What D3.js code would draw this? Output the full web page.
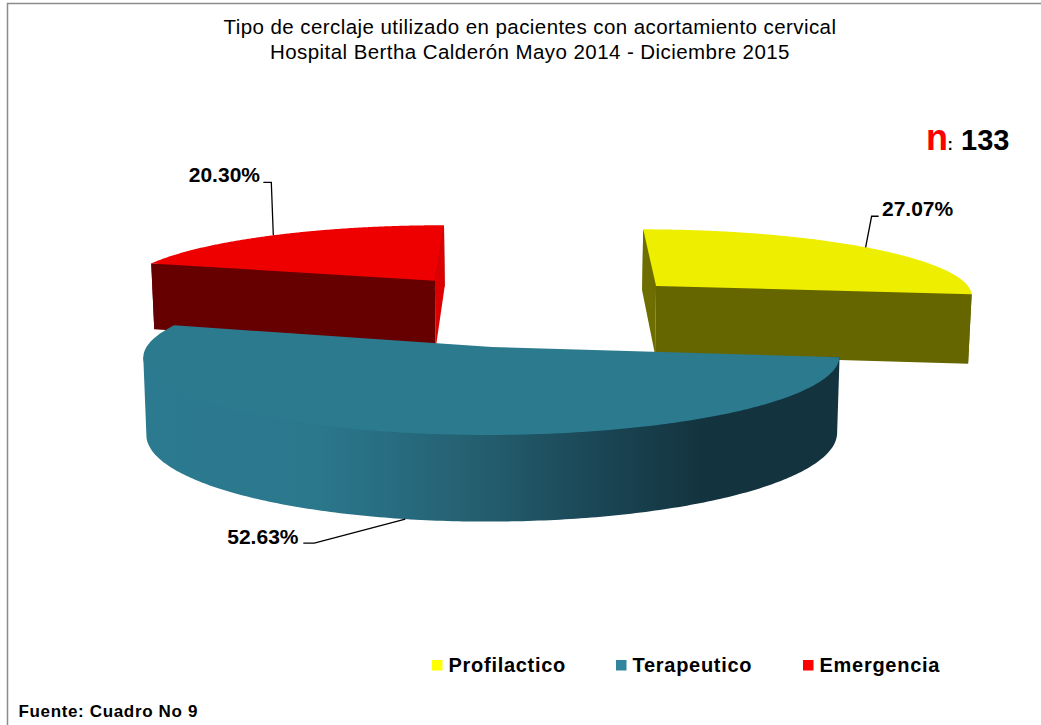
<!DOCTYPE html>
<html lang="es">
<head>
<meta charset="utf-8">
<script src="https://cdn.jsdelivr.net/npm/d3@7/dist/d3.min.js"></script>
<style>
html,body{margin:0;padding:0;background:#fff;}
svg{display:block;font-family:"Liberation Sans",Arial,sans-serif;}
</style>
</head>
<body>
<svg id="chart" width="1041" height="725"></svg>
<script>
// ---- Data ----
const categories = ["Profilactico", "Terapeutico", "Emergencia"];
const shares = [27.07, 52.63, 20.30];
const labels = ["27.07%", "52.63%", "20.30%"];
const titleLines = ["Tipo de cerclaje utilizado en pacientes con acortamiento cervical",
                    "Hospital Bertha Calderón Mayo 2014 - Diciembre 2015"];
const sourceNote = "Fuente: Cuadro No 9";
const sampleName = "n";
const sampleValue = "133";

// ---- Colours ----
const topColor   = d3.scaleOrdinal(categories, ["#EEEE00", "#2B7A8E", "#EE0000"]);
const wallColor  = d3.scaleOrdinal(categories, ["#666600", "url(#blueWall)", "#660000"]);
const innerColor = d3.scaleOrdinal(categories, ["#6E6E00", "#13343F", "#DD0000"]);
const keyColor   = d3.scaleOrdinal(categories, ["#FFFF00", "#31859C", "#FF0000"]);

// ---- Perspective pie geometry ----
const vp = {x: 527, y: -280};
const persp = 0.123, radius = 345.5, planeY = 627, thickness = 76, floorShrink = 0.992;
const explode = d3.scaleOrdinal(categories, [
  {u: 143, depth: 1.108}, {u: -35, depth: 1}, {u: -103, depth: 1.118}
]);
function project(cat, angle, r, bottom) {
  const e = explode(cat);
  const d = e.depth + persp * r * Math.cos(angle);
  const u = e.u + radius * r * Math.sin(angle);
  const k = bottom ? floorShrink : 1;
  return [vp.x + k * u / d, vp.y + (planeY + (bottom ? thickness : 0)) / d];
}
const arcs = d3.pie().sort(null).value(d => d)(shares).map((a, i) => ({...a, cat: categories[i], label: labels[i]}));
const line = d3.line();
const rim = (a, bottom, r = 1) => d3.range(0, 241).map(t =>
  project(a.cat, a.startAngle + (a.endAngle - a.startAngle) * t / 240, r, bottom));
// The outer wall is only seen up to the rim's leftmost point; its upper edge runs
// slightly inside the rim, under the top surface, so no seam shows between the two.
function wallPath(a) {
  const top = rim(a, false), inner = rim(a, false, 0.97), floor = rim(a, true);
  const stop = a.cat === categories[1] ? d3.leastIndex(top, p => p[0]) : top.length - 1;
  return line([top[0]].concat(inner.slice(0, stop + 1), [top[stop]], floor.slice(0, stop + 1).reverse())) + "Z";
}

const svg = d3.select("#chart");
const defs = svg.append("defs");
const grad = defs.append("linearGradient").attr("id", "blueWall")
  .attr("gradientUnits", "userSpaceOnUse").attr("x1", 144).attr("x2", 840).attr("y1", 0).attr("y2", 0);
[[0, "#2C7A8F"], [0.24, "#2B788D"], [0.36, "#286C80"], [0.5, "#235C6C"], [0.66, "#1A4554"], [0.8, "#13343F"], [1, "#13343F"]]
  .forEach(s => grad.append("stop").attr("offset", s[0]).attr("stop-color", s[1]));

// ---- Frame ----
svg.append("path").attr("d", "M7.5,725V3.5H1041").attr("fill", "none").attr("stroke", "#8C8C8C").attr("stroke-width", 1.5);

// ---- Title ----
svg.append("g").selectAll("text").data(titleLines).join("text")
  .attr("x", 530).attr("y", (d, i) => 34.3 + i * 24.2)
  .attr("text-anchor", "middle").attr("font-size", 20.5).attr("letter-spacing", 0.43).attr("fill", "#000")
  .text(d => d);

// ---- Slices: emergencia, profilactico, terapeutico ----
const order = [arcs[2], arcs[0], arcs[1]];
const slices = svg.append("g").selectAll("g").data(order).join("g");
slices.append("path").attr("fill", d => wallColor(d.cat)).attr("d", wallPath);
function face(d, angle) {
  return line([project(d.cat, angle, 0, false), project(d.cat, angle, 1, false),
               project(d.cat, angle, 1, true), project(d.cat, angle, 0, true)]) + "Z";
}
// The face that turns towards the viewer is drawn last of each pair.
slices.each(function(d) {
  if (d.cat === categories[1]) return;
  const g = d3.select(this);
  const inner = d.cat === categories[0] ? d.startAngle : d.endAngle;
  const front = d.cat === categories[0] ? d.endAngle : d.startAngle;
  g.append("path").attr("fill", innerColor(d.cat)).attr("d", face(d, inner));
  g.append("path").attr("fill", wallColor(d.cat)).attr("d", face(d, front));
});
slices.append("path").attr("fill", d => topColor(d.cat))
  .attr("d", d => line([project(d.cat, 0, 0, false)].concat(rim(d, false))) + "Z");

// ---- Leader lines and value labels ----
const leaderOffset = d3.scaleOrdinal(categories, [
  {elbow: [6, -31], end: [13, -31], tx: 882, ty: 216, anchor: "start", bottom: false},
  {elbow: [-91, 24], end: [-102, 24], tx: 298.5, ty: 544, anchor: "end", bottom: true},
  {elbow: [-2, -53], end: [-10, -53], tx: 260, ty: 182, anchor: "end", bottom: false}
]);
const leaders = svg.append("g").selectAll("g").data(arcs).join("g");
leaders.append("path").attr("fill", "none").attr("stroke", "#000").attr("stroke-width", 1.3)
  .attr("d", d => {
    const o = leaderOffset(d.cat);
    const p = project(d.cat, (d.startAngle + d.endAngle) / 2, 1, o.bottom);
    return line([p, [p[0] + o.elbow[0], p[1] + o.elbow[1]], [p[0] + o.end[0], p[1] + o.end[1]]]);
  });
leaders.append("text").attr("x", d => leaderOffset(d.cat).tx).attr("y", d => leaderOffset(d.cat).ty)
  .attr("text-anchor", d => leaderOffset(d.cat).anchor)
  .attr("font-size", 21).attr("font-weight", "bold").attr("fill", "#000").text(d => d.label);

// ---- Sample size ----
const nText = svg.append("text").attr("y", 149.5).attr("font-weight", "bold").attr("fill", "#000");
nText.append("tspan").attr("x", 926).attr("font-size", 36).attr("fill", "#FF0000").text(sampleName);
nText.append("tspan").attr("x", 947.5).attr("font-size", 16).text(":");
nText.append("tspan").attr("x", 961).attr("font-size", 29).text(sampleValue);

// ---- Legend ----
const legendX = d3.scaleOrdinal(categories, [432, 616, 803]);
const legend = svg.append("g").selectAll("g").data(categories).join("g");
legend.append("rect").attr("x", d => legendX(d)).attr("y", 660).attr("width", 10.5).attr("height", 10.5).attr("fill", d => keyColor(d));
legend.append("text").attr("x", d => legendX(d) + 16.5).attr("y", 672)
  .attr("font-size", 20).attr("letter-spacing", 0.72).attr("font-weight", "bold").attr("fill", "#000").text(d => d);

// ---- Source ----
svg.append("text").attr("x", 18.5).attr("y", 717.3).attr("font-size", 17).attr("letter-spacing", 0.65).attr("font-weight", "bold").attr("fill", "#000").text(sourceNote);
</script>
</body>
</html>
